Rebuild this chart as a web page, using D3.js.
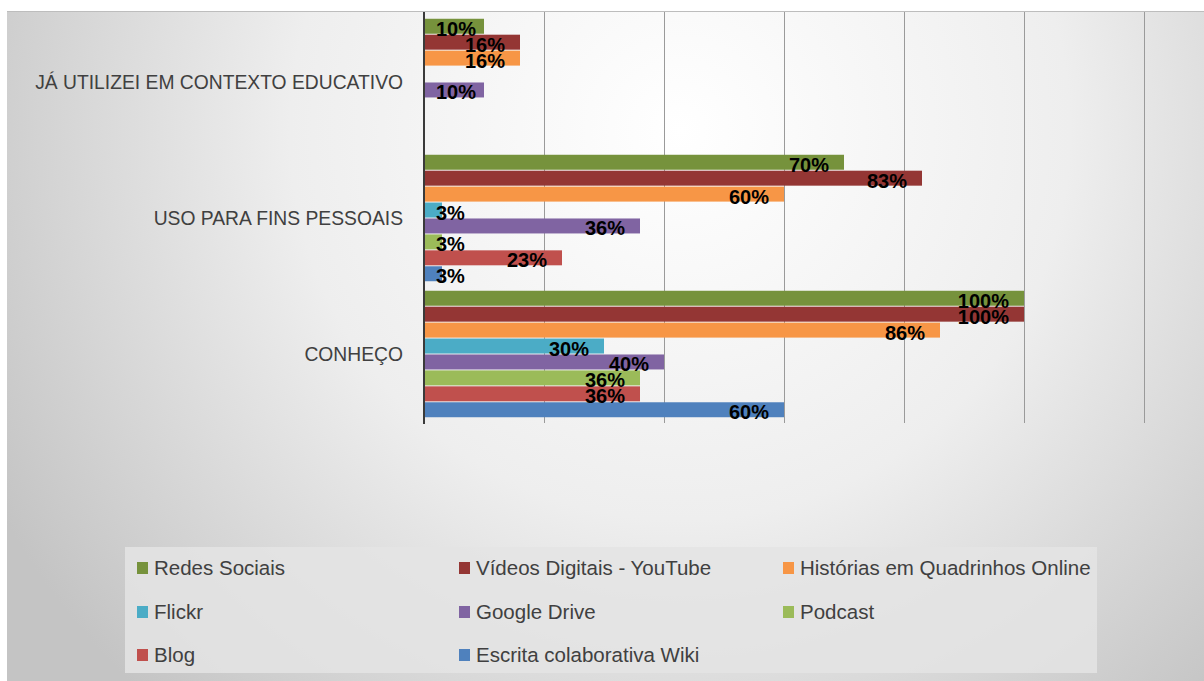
<!DOCTYPE html>
<html>
<head>
<meta charset="utf-8">
<script src="https://cdn.jsdelivr.net/npm/d3@7"></script>
<style>
  html, body { margin: 0; padding: 0; background: #fff; }
  svg { display: block; font-family: "Liberation Sans", Arial, sans-serif; }
</style>
</head>
<body>
<div id="chart"></div>
<script>
// Chart size
const width = 1204;
const height = 681;

// Data
const categories = ["JÁ UTILIZEI EM CONTEXTO EDUCATIVO", "USO PARA FINS PESSOAIS", "CONHEÇO"];
const series = ["Redes Sociais", "Vídeos Digitais - YouTube", "Histórias em Quadrinhos Online",
  "Flickr", "Google Drive", "Podcast", "Blog", "Escrita colaborativa Wiki"];
const colors = ["#76923c", "#943634", "#f79646", "#4bacc6", "#8064a2", "#9bbb59", "#c0504d", "#4f81bd"];
// one row per category, one value per series (null = no bar)
const values = [
  [10, 16, 16, null, 10, null, null, null],
  [70, 83, 60, 3, 36, 3, 23, 3],
  [100, 100, 86, 30, 40, 36, 36, 60]
];
const xTicks = [0, 20, 40, 60, 80, 100, 120];

const svg = d3.select("#chart").append("svg")
  .attr("width", width)
  .attr("height", height);

// Background gradient
const defs = svg.append("defs");
const grad = defs.append("radialGradient")
  .attr("id", "bg")
  .attr("gradientUnits", "userSpaceOnUse")
  .attr("cx", 680).attr("cy", 130).attr("r", 780);
grad.append("stop").attr("offset", "0%").attr("stop-color", "#ffffff");
grad.append("stop").attr("offset", "50%").attr("stop-color", "#eeeeee");
grad.append("stop").attr("offset", "100%").attr("stop-color", "#c4c4c4");

svg.append("rect")
  .attr("x", 7).attr("y", 11)
  .attr("width", width - 7).attr("height", height - 11)
  .attr("fill", "url(#bg)");
svg.append("line")
  .attr("x1", 7).attr("x2", width).attr("y1", 11.5).attr("y2", 11.5)
  .attr("stroke", "#bdbdbd");

// Scales
const x = d3.scaleLinear().domain([0, 120]).range([424, 1144]);
const y0 = d3.scaleBand().domain(categories).range([14, 422]).paddingInner(0.07).paddingOuter(0.035);
const y1 = d3.scaleBand().domain(series).range([0, y0.bandwidth()]).paddingInner(0.06);

// Gridlines
svg.append("g")
  .selectAll("line")
  .data(xTicks.slice(1))
  .enter().append("line")
  .attr("x1", d => x(d) + 0.5).attr("x2", d => x(d) + 0.5)
  .attr("y1", 12).attr("y2", 423)
  .attr("stroke", "#9a9a9a")
  .attr("stroke-width", 1);

// Bars
const groups = svg.append("g")
  .selectAll("g")
  .data(categories)
  .enter().append("g")
  .attr("transform", d => `translate(0,${y0(d)})`);

groups.selectAll("rect")
  .data((d, i) => series.map((s, j) => ({ s, v: values[i][j], c: colors[j] })).filter(e => e.v != null))
  .enter().append("rect")
  .attr("x", x(0))
  .attr("y", d => y1(d.s))
  .attr("width", d => x(d.v) - x(0))
  .attr("height", y1.bandwidth())
  .attr("fill", d => d.c);

// Value axis line
svg.append("line")
  .attr("x1", x(0)).attr("x2", x(0))
  .attr("y1", 12).attr("y2", 424)
  .attr("stroke", "#3a3a3a")
  .attr("stroke-width", 2);

// Data labels
groups.selectAll("text")
  .data((d, i) => series.map((s, j) => ({ s, v: values[i][j] })).filter(e => e.v != null))
  .enter().append("text")
  .attr("text-anchor", "end")
  .attr("y", d => y1(d.s) + y1.bandwidth() / 2 + 9.5)
  .attr("font-size", 20)
  .attr("font-weight", "bold")
  .attr("fill", "#000")
  .text(d => d.v + "%")
  .attr("x", function (d) {
    const w = this.getComputedTextLength();
    return Math.max(x(d.v) - 15, x(0) + 12 + w);
  });

// Category labels
svg.append("g")
  .selectAll("text")
  .data(categories)
  .enter().append("text")
  .attr("x", 403)
  .attr("y", d => y0(d) + y0.bandwidth() / 2 + 7)
  .attr("text-anchor", "end")
  .attr("font-size", 19.3)
  .attr("fill", "#404040")
  .text(d => d);

// Legend
const legend = svg.append("g");
legend.append("rect")
  .attr("x", 125).attr("y", 547)
  .attr("width", 972).attr("height", 126)
  .attr("fill", "#e4e4e4")
  .attr("opacity", 0.85);

const colX = [137, 459, 783];
const rowY = [568, 612, 655];
const items = legend.selectAll("g")
  .data(series)
  .enter().append("g")
  .attr("transform", (d, i) => `translate(${colX[i % 3]},${rowY[Math.floor(i / 3)]})`);
items.append("rect")
  .attr("x", 0).attr("y", -6)
  .attr("width", 11).attr("height", 12)
  .attr("fill", (d, i) => colors[i]);
items.append("text")
  .attr("x", 17).attr("y", 7)
  .attr("font-size", 20.5)
  .attr("fill", "#404040")
  .text(d => d);
</script>
</body>
</html>
